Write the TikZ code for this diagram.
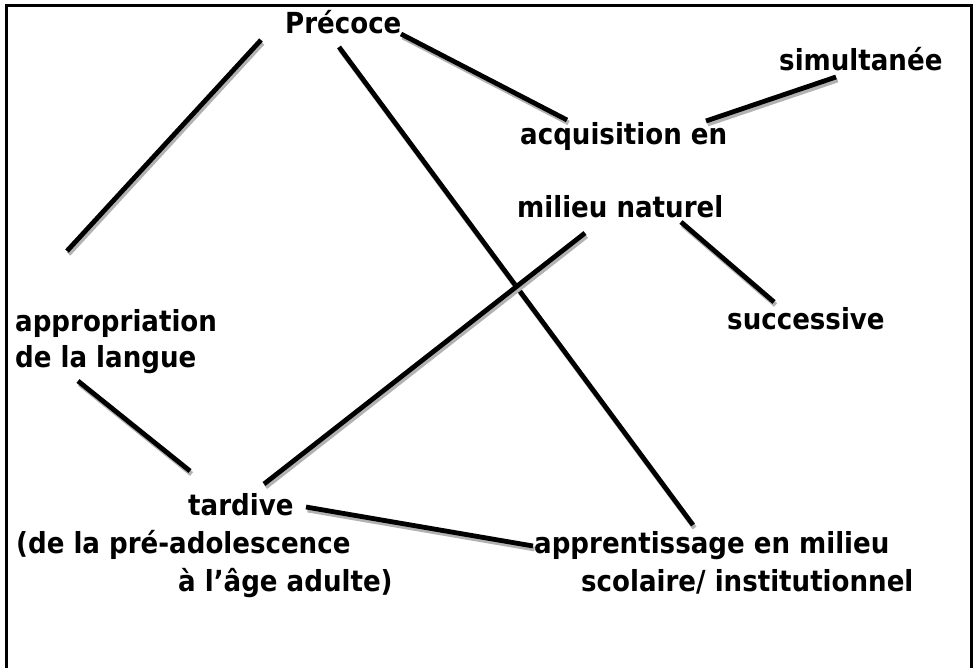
\documentclass[tikz,border=0pt]{standalone}
\usepackage{fontspec}
\newfontfamily\lblfont{DejaVu Sans Condensed}[BoldFont={DejaVu Sans Condensed Bold}]
\begin{document}
\begin{tikzpicture}[x=1pt,y=-1pt,
  lbl/.style={anchor=base west, inner sep=0pt, font=\lblfont\bfseries\fontsize{29}{35}\selectfont},
  link/.style={line width=4.8pt, black,
    preaction={draw=gray!60, line width=4.8pt, transform canvas={shift={(1.6pt,-3pt)}}}},
  frame/.style={line width=3pt, black}]
\useasboundingbox (0,0) rectangle (975,668);
\draw[frame] (6,668) -- (6,6) -- (971,6) -- (971,668);

% labels
\node[lbl] (pre)  at (285,34)  {Précoce};
\node[lbl] (sim)  at (779,71)  {simultanée};
\node[lbl] (acq)  at (520,145) {acquisition en};
\node[lbl] (mil)  at (517,218) {milieu naturel};
\node[lbl] (suc)  at (727,330) {successive};
\node[lbl] (app1) at (15,332)  {appropriation};
\node[lbl] (app2) at (15,367)  {de la langue};
\node[lbl] (tar1) at (188,515) {tardive};
\node[lbl] (tar2) at (16,553)  {(de la pré-adolescence};
\node[lbl] (tar3) at (178,591) {à l’âge adulte)};
\node[lbl] (sco1) at (534,553) {apprentissage en milieu};
\node[lbl] (sco2) at (581,591) {scolaire/ institutionnel};

% connector ends
\coordinate (a1) at (261,40);  \coordinate (b1) at (67,251);
\coordinate (a2) at (339,47);  \coordinate (b2) at (693,525);
\coordinate (a3) at (401,34);  \coordinate (b3) at (567,120);
\coordinate (a4) at (706,121); \coordinate (b4) at (836,77);
\coordinate (a5) at (585,233); \coordinate (b5) at (264,484);
\coordinate (a6) at (681,222); \coordinate (b6) at (774,302);
\coordinate (a7) at (78,381);  \coordinate (b7) at (190,471);
\coordinate (a8) at (306,507); \coordinate (b8) at (533,546);

\draw[link] (a1) -- (b1);
\draw[link] (a2) -- (b2);
\draw[link] (a3) -- (b3);
\draw[link] (a4) -- (b4);
\draw[link] (a5) -- (b5);
\draw[link] (a6) -- (b6);
\draw[link] (a7) -- (b7);
\draw[link] (a8) -- (b8);
\end{tikzpicture}
\end{document}
